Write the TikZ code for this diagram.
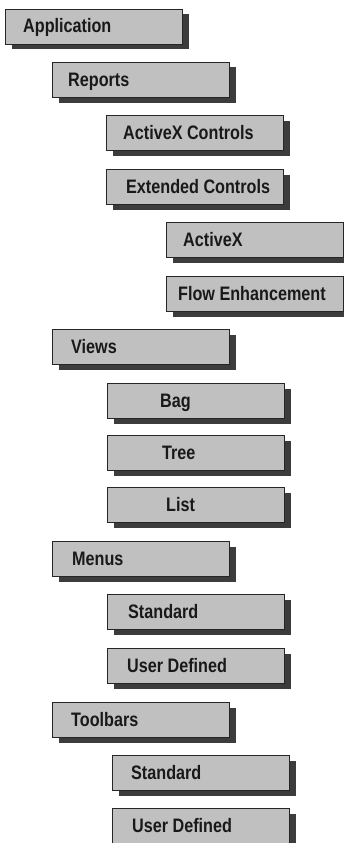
\documentclass[tikz,border=0pt]{standalone}
\usepackage{fontspec}
\newfontfamily\lblfont[FakeStretch=0.83]{Liberation Sans}
\usetikzlibrary{shadows}
\definecolor{boxgray}{HTML}{C0C0C0}
\definecolor{shadowgray}{HTML}{3C3C3C}
\tikzset{
  menubox/.style={draw=black!85, line width=1pt, fill=boxgray,
    minimum width=177pt, minimum height=35pt, inner sep=0pt, anchor=north west,
    drop shadow={shadow xshift=6pt, shadow yshift=-5pt, fill=shadowgray, opacity=1}},
  lbl/.style={anchor=base west, inner sep=0pt, font=\lblfont\bfseries\fontsize{19.5}{22}\selectfont, text=black!90}
}
\newcommand{\mybox}[5]{%
  \node[menubox] (#1) at (#2,-#3) {};
  \node[lbl] (#1t) at ([xshift=#4pt, yshift=-24pt]#1.north west) {#5};
}
\begin{document}
\begin{tikzpicture}[x=1pt,y=1pt]
\useasboundingbox (0,0) rectangle (344,-843);
\mybox{app}{5}{9}{18}{Application}
\mybox{rep}{52}{62}{16}{Reports}
\mybox{axc}{106}{115}{17}{ActiveX Controls}
\mybox{ext}{106}{169}{20}{Extended Controls}
\mybox{ax}{166}{222}{17}{ActiveX}
\mybox{flow}{166}{276}{12}{Flow Enhancement}
\mybox{views}{52}{329}{19}{Views}
\mybox{bag}{107}{383}{53}{Bag}
\mybox{tree}{107}{435}{55}{Tree}
\mybox{list}{107}{487}{59}{List}
\mybox{menus}{52}{541}{20}{Menus}
\mybox{mstd}{107}{594}{21}{Standard}
\mybox{musr}{107}{648}{20}{User Defined}
\mybox{tool}{52}{702}{19}{Toolbars}
\mybox{tstd}{112}{755}{19}{Standard}
\mybox{tusr}{112}{808}{20}{User Defined}
\end{tikzpicture}
\end{document}
